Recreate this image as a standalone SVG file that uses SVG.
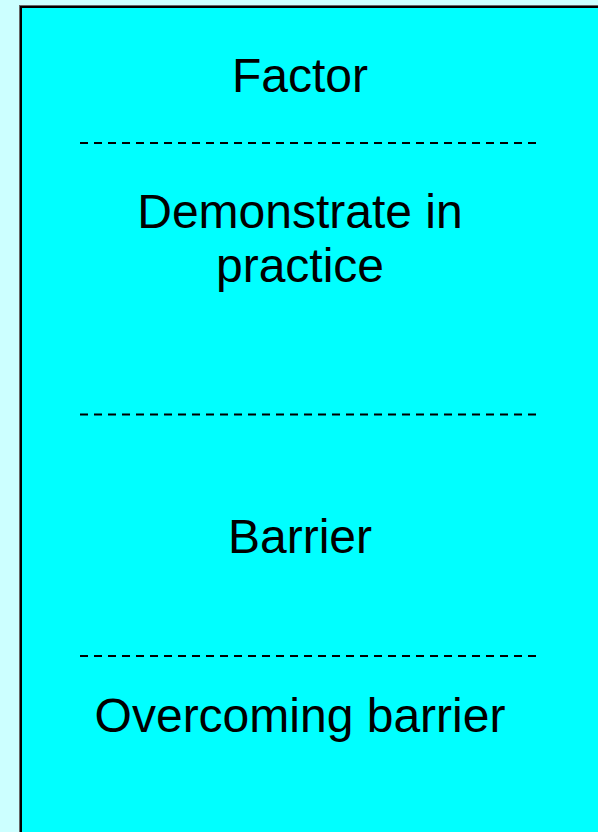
<svg xmlns="http://www.w3.org/2000/svg" width="598" height="832" viewBox="0 0 598 832">
  <style>
    .label { font-family: "Liberation Sans", Arial, Helvetica, sans-serif; font-size: 48px; fill: #000; text-anchor: middle; }
    .divider { stroke: #000; stroke-width: 2; stroke-dasharray: 8 6; fill: none; }
  </style>
  <!-- page background -->
  <rect x="0" y="0" width="598" height="832" fill="#CCFFFF"/>
  <!-- panel -->
  <g id="panel">
    <rect x="19.5" y="5.5" width="600" height="840" fill="none" stroke="#666" stroke-width="1"/>
    <rect x="21" y="7" width="600" height="840" fill="#00FFFF" stroke="#000" stroke-width="2"/>
  </g>
  <!-- section dividers -->
  <g id="dividers">
    <line class="divider" x1="80" y1="143" x2="536" y2="143"/>
    <line class="divider" x1="80" y1="414.5" x2="536" y2="414.5"/>
    <line class="divider" x1="80" y1="656" x2="536" y2="656"/>
  </g>
  <g id="factor">
    <text class="label" x="300" y="92">Factor</text>
  </g>
  <g id="demonstrate">
    <text class="label" x="300" y="228">Demonstrate in</text>
    <text class="label" x="300" y="282">practice</text>
  </g>
  <g id="barrier">
    <text class="label" x="300" y="553">Barrier</text>
  </g>
  <g id="overcoming">
    <text class="label" x="300" y="732">Overcoming barrier</text>
  </g>
</svg>
